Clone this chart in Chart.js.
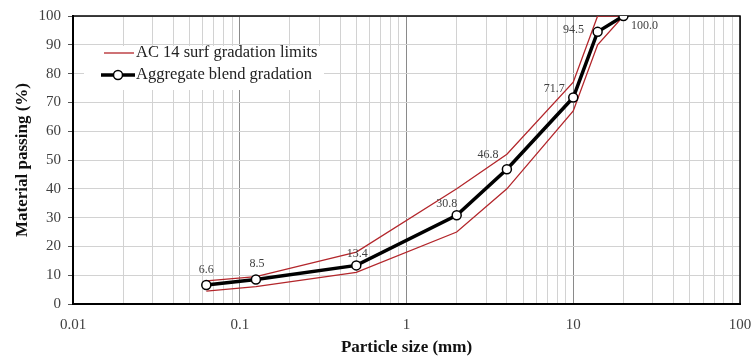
<!DOCTYPE html>
<html>
<head>
<meta charset="utf-8">
<script src="https://cdn.jsdelivr.net/npm/chart.js@4"></script>
<style>
  html, body { margin: 0; padding: 0; background: #fff; }
  #wrap { width: 752px; height: 360px; }
</style>
</head>
<body>
<div id="wrap"><canvas id="chart" width="752" height="360"></canvas></div>
<script>
// sieve sizes (mm) and percent passing
const sieveSizes = [0.063, 0.125, 0.5, 2, 4, 10, 14, 20];
const upperLimit = [8, 9.5, 18, 40, 52, 77, 100, 100];
const lowerLimit = [4.5, 6, 11, 25, 40, 67, 90, 100];
const blendPassing = [6.6, 8.5, 13.4, 30.8, 46.8, 71.7, 94.5, 100.0];

const xDecades = [0.01, 0.1, 1, 10, 100];
const xTickLabels = ['0.01', '0.1', '1', '10', '100'];
const yTickLabels = ['0', '10', '20', '30', '40', '50', '60', '70', '80', '90', '100'];

const limitsLabel = 'AC 14 surf gradation limits';
const blendLabel = 'Aggregate blend gradation';

// minor grid at 1..9 of every decade
let xGridValues = [];
for (let d = 0; d < xDecades.length - 1; d++) {
    for (let m = 1; m < 10; m++) {
        xGridValues.push(+(xDecades[d] * m).toPrecision(3));
    }
}
xGridValues.push(xDecades[xDecades.length - 1]);

function toPoints(ys) {
    return sieveSizes.map((x, i) => ({ x: x, y: ys[i] }));
}

const RED = '#b3262b';
Chart.defaults.font.family = '"Liberation Serif", "DejaVu Serif", serif';
Chart.defaults.color = '#404040';

// data label offsets from each blend point (dx, dy)
const labelOffsets = [[0, -15], [1, -16], [1, -12], [-10, -11], [-19, -14], [-19, -9], [-24, -2], [21, 10]];

const pointLabels = {
    id: 'pointLabels',
    afterDatasetsDraw(chart) {
        const ctx = chart.ctx;
        const xs = chart.scales.x, ys = chart.scales.y;
        ctx.save();
        ctx.font = '12px "Liberation Serif", serif';
        ctx.fillStyle = '#404040';
        ctx.textAlign = 'center';
        ctx.textBaseline = 'middle';
        blendPassing.forEach((v, i) => {
            const px = xs.getPixelForValue(sieveSizes[i]);
            const py = ys.getPixelForValue(v);
            ctx.fillText(v.toFixed(1), px + labelOffsets[i][0], py + labelOffsets[i][1]);
        });
        ctx.restore();
    }
};

const frame = {
    id: 'frame',
    beforeDatasetsDraw(chart) {
        const a = chart.chartArea, ctx = chart.ctx;
        ctx.save();
        ctx.strokeStyle = '#000';
        ctx.lineWidth = 1.5;
        ctx.strokeRect(a.left, a.top, a.right - a.left, a.bottom - a.top);
        ctx.restore();
    }
};

const boxLegend = {
    id: 'boxLegend',
    afterDraw(chart) {
        const ctx = chart.ctx;
        ctx.save();
        ctx.fillStyle = '#fff';
        ctx.fillRect(84, 46, 240, 44);
        // limits entry
        ctx.strokeStyle = RED;
        ctx.lineWidth = 1.3;
        ctx.beginPath();
        ctx.moveTo(104, 53); ctx.lineTo(134, 53);
        ctx.stroke();
        // blend entry
        ctx.strokeStyle = '#000';
        ctx.lineWidth = 3.5;
        ctx.beginPath();
        ctx.moveTo(101, 75); ctx.lineTo(135, 75);
        ctx.stroke();
        ctx.beginPath();
        ctx.arc(118, 75, 4.5, 0, Math.PI * 2);
        ctx.fillStyle = '#fff';
        ctx.fill();
        ctx.lineWidth = 1.5;
        ctx.stroke();
        ctx.font = '16.5px "Liberation Serif", serif';
        ctx.fillStyle = '#222';
        ctx.textBaseline = 'middle';
        ctx.fillText(limitsLabel, 136, 53);
        ctx.fillText(blendLabel, 136, 75);
        ctx.restore();
    }
};

new Chart(document.getElementById('chart'), {
    type: 'line',
    data: {
        datasets: [
            {
                label: blendLabel,
                data: toPoints(blendPassing),
                borderColor: '#000',
                borderWidth: 3.5,
                pointRadius: 4.5,
                pointBackgroundColor: '#fff',
                pointBorderColor: '#000',
                pointBorderWidth: 1.5,
                order: 0
            },
            {
                label: limitsLabel,
                data: toPoints(upperLimit),
                borderColor: RED,
                borderWidth: 1.3,
                pointRadius: 0,
                order: 1
            },
            {
                label: limitsLabel + ' (lower)',
                data: toPoints(lowerLimit),
                borderColor: RED,
                borderWidth: 1.3,
                pointRadius: 0,
                order: 1
            }
        ]
    },
    options: {
        responsive: false,
        animation: false,
        layout: { padding: { top: 15, right: 0, left: 0, bottom: 0 } },
        plugins: {
            legend: { display: false },
            tooltip: { enabled: false }
        },
        scales: {
            x: {
                type: 'logarithmic',
                min: 0.01,
                max: 100,
                afterBuildTicks: function(scale) {
                    scale.ticks = xGridValues.map(v => ({ value: v }));
                },
                afterFit: function(scale) {
                    scale.height = 56;
                    scale.paddingLeft = 0;
                    scale.paddingRight = 12;
                },
                ticks: {
                    autoSkip: false,
                    maxRotation: 0,
                    padding: 12,
                    font: { size: 15 },
                    callback: function(value) {
                        const i = xDecades.findIndex(d => Math.abs(d - value) < d * 1e-6);
                        return i >= 0 ? xTickLabels[i] : '';
                    }
                },
                grid: {
                    drawTicks: false,
                    color: function(c) {
                        const v = c.tick ? c.tick.value : 0;
                        return xDecades.some(d => Math.abs(d - v) < d * 1e-6) ? '#8a8a8a' : '#d2d2d2';
                    },
                    lineWidth: 1
                },
                border: { color: '#000', width: 2 },
                title: {
                    display: true,
                    text: 'Particle size (mm)',
                    font: { size: 17, weight: 'bold' },
                    color: '#111',
                    padding: { top: 0, bottom: 2 }
                }
            },
            y: {
                min: 0,
                max: 100,
                afterFit: function(scale) {
                    scale.width = 73;
                },
                ticks: {
                    stepSize: 10,
                    padding: 7,
                    font: { size: 15 },
                    callback: function(value, index) {
                        return yTickLabels[index];
                    }
                },
                grid: {
                    color: '#d2d2d2',
                    tickColor: '#555',
                    tickLength: 5
                },
                border: { color: '#000', width: 2 },
                title: {
                    display: true,
                    text: 'Material passing (%)',
                    font: { size: 17, weight: 'bold' },
                    color: '#111',
                    padding: { top: 12, bottom: 0 }
                }
            }
        }
    },
    plugins: [frame, pointLabels, boxLegend]
});
</script>
</body>
</html>
